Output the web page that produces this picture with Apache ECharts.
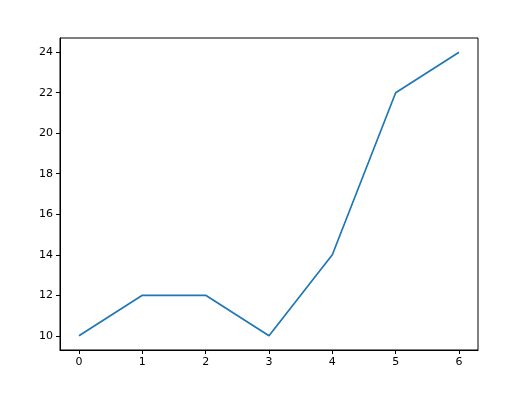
<!DOCTYPE html>
<html>
<head>
<meta charset="utf-8">
<script src="https://cdn.jsdelivr.net/npm/echarts@6/dist/echarts.min.js"></script>
<style>html,body{margin:0;padding:0;background:#fff}#chart{width:520px;height:419px}</style>
</head>
<body>
<div id="chart"></div>
<script>
var xValues = [0, 1, 2, 3, 4, 5, 6];
var yValues = [10, 12, 12, 10, 14, 22, 24];
var xTicks = [0, 1, 2, 3, 4, 5, 6];
var yTicks = [10, 12, 14, 16, 18, 20, 22, 24];

var points = [];
for (var i = 0; i < xValues.length; i++) {
  points.push([xValues[i], yValues[i]]);
}

var chart = echarts.init(document.getElementById('chart'), null, {renderer: 'canvas'});
var axisText = {color: '#000', fontFamily: 'DejaVu Sans', fontSize: 11};
chart.setOption({
  animation: false,
  grid: {
    left: 60, right: 42, top: 38, bottom: 69,
    show: true, borderColor: '#000', borderWidth: 1
  },
  xAxis: {
    type: 'value',
    min: -0.3, max: 6.3,
    splitLine: {show: false},
    axisLine: {show: true, onZero: false, lineStyle: {color: '#000', width: 1}},
    axisTick: {show: true, inside: false, length: 4, lineStyle: {color: '#000'}, customValues: xTicks},
    axisLabel: Object.assign({margin: 7, customValues: xTicks}, axisText)
  },
  yAxis: {
    type: 'value',
    min: 9.3, max: 24.7,
    splitLine: {show: false},
    axisLine: {show: true, onZero: false, lineStyle: {color: '#000', width: 1}},
    axisTick: {show: true, inside: false, length: 4, lineStyle: {color: '#000'}, customValues: yTicks},
    axisLabel: Object.assign({margin: 7, customValues: yTicks}, axisText)
  },
  series: [{
    type: 'line',
    data: points,
    showSymbol: false,
    lineStyle: {color: '#1f77b4', width: 1.7}
  }]
});
</script>
</body>
</html>
